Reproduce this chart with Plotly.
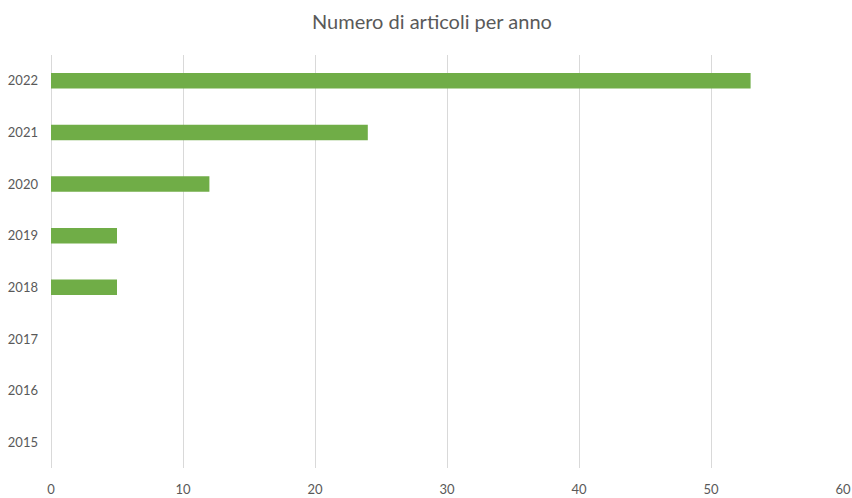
import plotly.graph_objects as go

years = ["2015", "2016", "2017", "2018", "2019", "2020", "2021", "2022"]
counts = [0, 0, 0, 5, 5, 12, 24, 53]
x_ticks = [0, 10, 20, 30, 40, 50, 60]

fig = go.Figure(go.Bar(
    x=counts, y=years, orientation="h",
    marker=dict(color="#70ad47", line=dict(width=0)),
    width=0.3,
))

fig.update_layout(
    width=852, height=498,
    margin=dict(l=51, r=9, t=55, b=30),
    paper_bgcolor="white", plot_bgcolor="white",
    title=dict(text="Numero di articoli per anno", x=0.507, xanchor="center",
               y=0.955, yanchor="middle",
               font=dict(family="Lato", size=20, color="#595959")),
    font=dict(family="Lato", size=13, color="#595959"),
    showlegend=False,
    bargap=0.7,
)
fig.update_xaxes(range=[0, 60], tickvals=x_ticks, showgrid=True,
                 gridcolor="#d9d9d9", gridwidth=1, zeroline=True,
                 zerolinecolor="#d9d9d9", zerolinewidth=1,
                 showline=False, ticks="", ticklabelstandoff=12,
                 automargin=False)
fig.update_yaxes(type="category", categoryorder="array", categoryarray=years,
                 showgrid=False, zeroline=False, showline=False, ticks="",
                 ticklabelstandoff=12, automargin=False)

fig.write_html("out.html")
